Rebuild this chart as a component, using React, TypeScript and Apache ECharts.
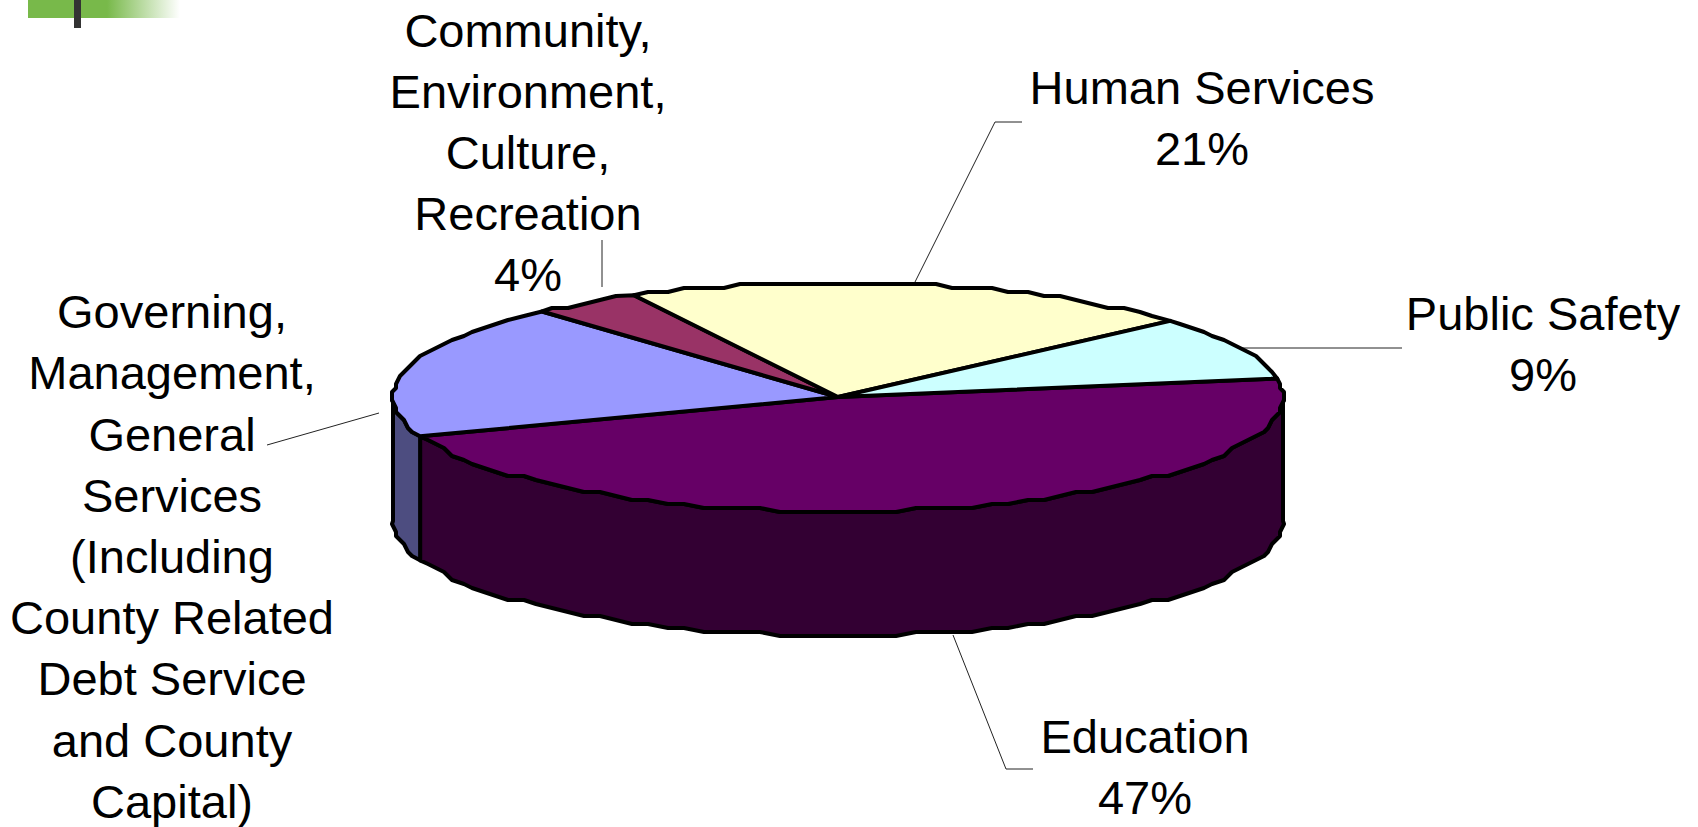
import React, { useEffect, useRef } from "react";
import * as echarts from "echarts";

// Spending shares, listed clockwise from the start angle of the disc.
const categories = [
  "Education",
  "Governing, Management, General Services",
  "Community, Environment, Culture, Recreation",
  "Human Services",
  "Public Safety",
];
const shares = [47, 19, 4, 21, 9];
const topColors = ["#660066", "#9999FF", "#993366", "#FFFFCC", "#CCFFFF"];
const sideColors = ["#330033", "#4D4D80", "#4D1A33", "#808066", "#668080"];

const educationLabel = ["Education", "47%"];
const humanServicesLabel = ["Human Services", "21%"];
const publicSafetyLabel = ["Public Safety", "9%"];
const communityLabel = ["Community,", "Environment,", "Culture,", "Recreation", "4%"];
const governingLabel = [
  "Governing,",
  "Management,",
  "General",
  "Services",
  "(Including",
  "County Related",
  "Debt Service",
  "and County",
  "Capital)",
];

// Disc geometry in page pixels.
const CX = 838;
const CY = 397;
const RX = 445;
const RY = 114.5;
const DEPTH = 124;
const START_DEG = 9.3;
const GRID = 4;
const STEP_DEG = 2.5;

const FONT = "Liberation Sans, Arial, sans-serif";
const FONT_SIZE = 47;
const LINE_H = 61.2;
const TEXT_RAISE = 5;

type Pt = [number, number];

// Edge of the ellipse at an angle measured anticlockwise from the +x axis.
const rim = (deg: number, dy = 0): Pt => {
  const r = (deg * Math.PI) / 180;
  return [CX + RX * Math.cos(r), CY - RY * Math.sin(r) + dy];
};

const snap = (p: Pt): Pt => [Math.round(p[0] / GRID) * GRID, Math.round(p[1] / GRID) * GRID];

// Outline from one angle to another, on the coarse grid of a metafile drawing.
const arc = (from: number, to: number, dy = 0): Pt[] => {
  const pts: Pt[] = [rim(from, dy)];
  const dir = to > from ? 1 : -1;
  const first = Math.ceil((dir * from) / STEP_DEG + 0.3);
  for (let i = first; i * STEP_DEG < dir * to - 0.8; i++) {
    pts.push(snap(rim(dir * i * STEP_DEG, dy)));
  }
  pts.push(rim(to, dy));
  return pts;
};

// Clockwise angular span of every slice, derived from its share.
const total = shares.reduce((a, b) => a + b, 0);
let running = 0;
const sliceRows = shares.map((v) => {
  const from = START_DEG - (running / total) * 360;
  running += v;
  const to = START_DEG - (running / total) * 360;
  return [from, to, v];
});

const edge = { stroke: "#000", lineWidth: 4, lineJoin: "round" as const };

const renderTop = (params: any, api: any) => {
  const from = api.value(0);
  const to = api.value(1);
  return {
    type: "polygon",
    shape: { points: [[CX, CY], ...arc(from, to)] },
    style: { fill: topColors[params.dataIndex], ...edge },
  };
};

// Only the part of a slice facing the viewer (angles -180..0) shows its wall.
const renderSide = (params: any, api: any) => {
  const from = Math.min(api.value(0), 0);
  const to = api.value(1);
  const low = Math.max(to, -180);
  if (from <= low) return null;
  const top = arc(from, low);
  const bottom = arc(low, from, DEPTH);
  return {
    type: "polygon",
    shape: { points: [...top, ...bottom] },
    style: { fill: sideColors[params.dataIndex], ...edge },
  };
};

const label = (lines: string[], x: number, firstBaseline: number) => ({
  type: "text",
  x,
  y: firstBaseline - FONT_SIZE * 0.86 - TEXT_RAISE,
  style: {
    text: lines.join("\n"),
    fill: "#000",
    font: `${FONT_SIZE}px ${FONT}`,
    lineHeight: LINE_H,
    textAlign: "center",
    textVerticalAlign: "top",
  },
});

const leader = (points: Pt[]) => ({
  type: "polyline",
  shape: { points },
  style: { stroke: "#222", lineWidth: 1, fill: "none" },
});

export default function App() {
  const ref = useRef<HTMLDivElement>(null);
  useEffect(() => {
    const chart = echarts.init(ref.current!, undefined, { renderer: "svg" });
    chart.setOption({
      animation: false,
      backgroundColor: "#fff",
      series: [
        {
          type: "custom",
          name: "walls",
          coordinateSystem: "none",
          silent: true,
          z: 1,
          data: sliceRows,
          renderItem: renderSide,
        },
        {
          type: "custom",
          name: "spending",
          coordinateSystem: "none",
          silent: true,
          z: 2,
          data: sliceRows.map((row, i) => ({ name: categories[i], value: row })),
          renderItem: renderTop,
        },
      ],
      graphic: [
        // Corner ornament of the slide
        {
          type: "rect",
          shape: { x: 28, y: 0, width: 152, height: 18 },
          style: {
            fill: new echarts.graphic.LinearGradient(0, 0, 1, 0, [
              { offset: 0, color: "#78B94A" },
              { offset: 0.52, color: "#78B94A" },
              { offset: 1, color: "#FFFFFF" },
            ]),
          },
        },
        { type: "rect", shape: { x: 74, y: 0, width: 7, height: 28 }, style: { fill: "#333" } },
        // Leader lines
        leader([[953, 635], [1006, 769], [1033, 769]]),
        leader([[915, 282], [995, 122], [1022, 122]]),
        leader([[1242, 348], [1402, 348]]),
        leader([[602, 240], [602, 287]]),
        leader([[267, 445], [379, 413]]),
        // Slice labels
        label(educationLabel, 1145, 751),
        label(humanServicesLabel, 1202, 102),
        label(publicSafetyLabel, 1543, 328),
        label(communityLabel, 528, 45),
        label(governingLabel, 172, 326.5),
      ],
    });
    return () => chart.dispose();
  }, []);
  return <div ref={ref} style={{ position: "fixed", left: 0, top: 0, width: 1698, height: 827 }} />;
}
